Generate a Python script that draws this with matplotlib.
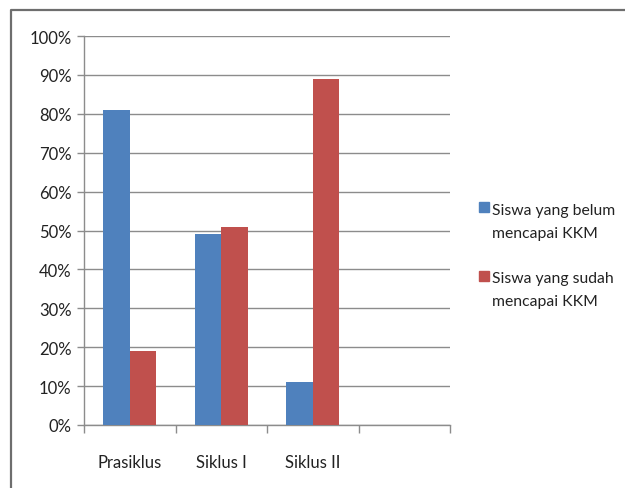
import matplotlib
matplotlib.use("Agg")
import matplotlib.pyplot as plt
from matplotlib.lines import Line2D
from matplotlib.patches import Rectangle
import numpy as np

categories = ["Prasiklus", "Siklus I", "Siklus II", ""]
belum = [81, 49, 11]
sudah = [19, 51, 89]
series_labels = ["Siswa yang belum\nmencapai KKM", "Siswa yang sudah\nmencapai KKM"]
yticks = [0, 10, 20, 30, 40, 50, 60, 70, 80, 90, 100]

plt.rcParams['font.family'] = ['Lato', 'DejaVu Sans']

W, H = 625, 489
fig = plt.figure(figsize=(W/100, H/100), dpi=100)
ax = fig.add_axes([84/W, 1-426/H, (450-84)/W, (426-37)/H])

blue = "#4F81BD"
red = "#C0504D"
grid = "#8C8C8C"
txt = "#222222"
bw = 0.29
x = np.arange(len(belum)) + 0.5
ax.bar(x - bw/2, belum, width=bw, color=blue, zorder=3)
ax.bar(x + bw/2, sudah, width=bw, color=red, zorder=3)

ax.set_xlim(0, len(categories))
ax.set_ylim(0, 100)
ax.set_yticks(yticks)
ax.set_yticklabels([f"{v}%" for v in yticks], fontsize=12, color=txt)
ax.yaxis.grid(True, color=grid, linewidth=1, zorder=0)
ax.set_axisbelow(True)

ax.set_xticks(np.arange(len(categories)+1))
ax.set_xticklabels([])
ax.set_xticks(np.arange(len(categories)) + 0.5, minor=True)
ax.set_xticklabels(categories, minor=True, fontsize=12, color=txt)
ax.tick_params(axis='x', which='minor', length=0, pad=21)
ax.tick_params(axis='x', which='major', length=6, color=grid, width=1)
ax.tick_params(axis='y', length=5, color=grid, width=1, pad=4)

for s in ["top", "right"]:
    ax.spines[s].set_visible(False)
for s in ["left", "bottom"]:
    ax.spines[s].set_color(grid)
    ax.spines[s].set_linewidth(1)

# legend drawn manually: marker aligned with first text line
leg_colors = [blue, red]
leg_centers = [222.5, 290.5]   # pixel y of each two-line block centre
first_line = [208, 277]
for lab, col, yc, y1 in zip(series_labels, leg_colors, leg_centers, first_line):
    fig.add_artist(Rectangle((479/W, 1-(y1+5)/H), 10/W, 10/H,
                             transform=fig.transFigure, color=col))
    fig.text(492/W, 1-yc/H, lab, ha="left", va="center", fontsize=11.3,
             color=txt, linespacing=1.75)

fig.add_artist(Line2D([11/W, 11/W, 1], [0, 1-11/H, 1-11/H], transform=fig.transFigure,
                      color="#6E6E6E", linewidth=1.6))

fig.savefig("out.png", dpi=100)
